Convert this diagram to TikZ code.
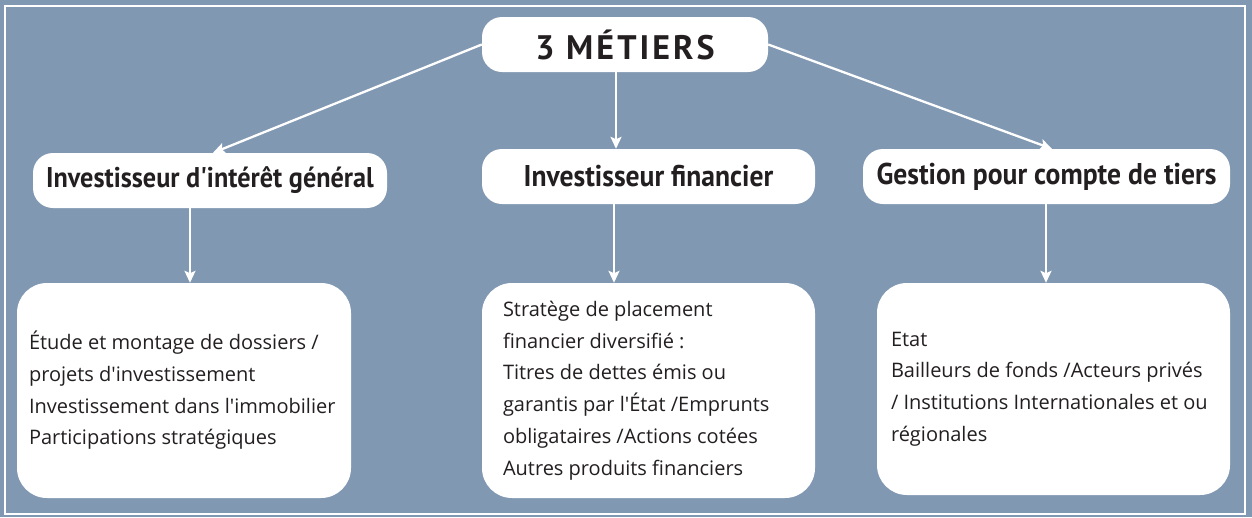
\documentclass[tikz,border=0pt]{standalone}
\usepackage{fontspec}
\setmainfont{Open Sans}[Ligatures=TeXOff]
\newfontfamily\titlefont{PT Sans}[FakeStretch=0.92,Ligatures=TeXOff]
\newfontfamily\headfont{PT Sans}[LetterSpace=9]
\usetikzlibrary{arrows.meta,calc}
\definecolor{panelblue}{RGB}{129,152,178}
\definecolor{inkgrey}{RGB}{35,31,32}
\begin{document}
\begin{tikzpicture}[x=1pt,y=-1pt,
  titlebox/.style={fill=white,rounded corners=20pt,minimum height=55pt,
    inner sep=0pt,text=inkgrey,font=\titlefont\bfseries\fontsize{30}{32}\selectfont},
  detailbox/.style={fill=white,rounded corners=30pt,inner sep=0pt},
  detailtext/.style={anchor=west,align=left,inner sep=0pt,text=inkgrey,
    font=\fontsize{20}{31.7}\selectfont},
  arr/.style={draw=white,line width=2.3pt,-{Stealth[width=11pt,length=12pt,inset=2.5pt]}}]
% background panel and frame
\fill[panelblue] (0,0) rectangle (1252,517);
\draw[white,line width=1.6pt] (5,6) rectangle (1245,514);
% heading
\node[titlebox,minimum width=286pt,font=\headfont\bfseries\fontsize{34}{36}\selectfont] (top) at (625,44.5) {3 MÉTIERS};
% three activities
\node[titlebox,minimum width=354pt,font=\titlefont\bfseries\fontsize{28.5}{30}\selectfont] (T1) at (210,180.5) {Investisseur d'intérêt général};
\node[titlebox,minimum width=333pt] (T2) at (648.5,176.5) {Investisseur financier};
\node[titlebox,minimum width=367pt] (T3) at (1046.5,176.5) {Gestion pour compte de tiers};
% detail boxes
\node[detailbox,minimum width=334pt,minimum height=215pt] (B1) at (184,390.5) {};
\node[detailbox,minimum width=333pt,minimum height=215pt] (B2) at (648.5,390.5) {};
\node[detailbox,minimum width=353pt,minimum height=212pt] (B3) at (1053.5,389) {};
\node[detailtext] (L1) at ([xshift=12pt]B1.west)
  {Étude et montage de dossiers /\\projets d'investissement\\Investissement dans l'immobilier\\Participations stratégiques};
\node[detailtext] (L2) at ([xshift=21pt]B2.west)
  {Stratège de placement\\financier diversifié :\\Titres de dettes émis ou\\garantis par l'État /Emprunts\\obligataires /Actions cotées\\Autres produits financiers};
\node[detailtext] (L3) at ([xshift=14pt]B3.west)
  {Etat\\Bailleurs de fonds /Acteurs privés\\/ Institutions Internationales et ou\\régionales};
% connectors
\draw[arr] (top.west) -- ([xshift=3pt]T1.north);
\draw[arr] (top.south -| 616,0) -- (T2.north -| 616,0);
\draw[arr] (top.east) -- ([xshift=5.5pt]T3.north);
\draw[arr] (T1.south -| 190,0) -- (B1.north -| 190,0);
\draw[arr] (T2.south -| 614,0) -- (B2.north -| 614,0);
\draw[arr] (T3.south -| 1046,0) -- (B3.north -| 1046,0);
\end{tikzpicture}
\end{document}
